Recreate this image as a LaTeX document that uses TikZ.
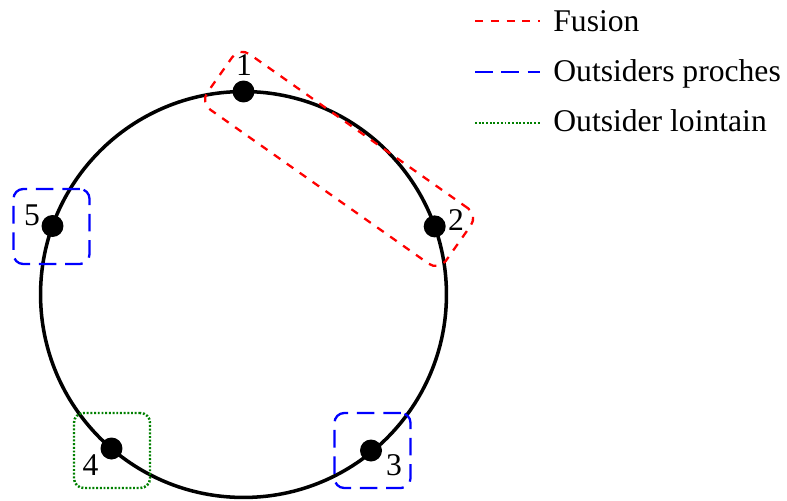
\documentclass[tikz,border=0pt]{standalone}
\usepackage{fontspec}
\setmainfont{Liberation Serif}
\usetikzlibrary{calc}
\begin{document}
\begin{tikzpicture}[x=0.02cm,y=-0.02cm,
  every node/.style={font=\fontsize{18}{20}\selectfont},
  dot/.style={circle,fill=black,inner sep=0pt,minimum size=0.44cm},
  lbl/.style={anchor=base,inner sep=0pt},
  fusionline/.style={red,line width=1.3pt,dash pattern=on 4.5pt off 4.5pt},
  procheline/.style={blue,line width=1.3pt,dash pattern=on 10pt off 5pt},
  lointline/.style={green!50!black,line width=1.4pt,dash pattern=on 1.1pt off 1pt},
  grp/.style={rectangle,rounded corners=5.5pt,minimum width=1.52cm,minimum height=1.5cm,inner sep=0pt},
  legtext/.style={anchor=base west,inner sep=0pt}]
\useasboundingbox (0,0) rectangle (787,500);
\draw[line width=2pt] (243.5,294.5) circle [radius=4.06cm];
\node[dot] (n1) at (243.5,91.5) {};
\node[dot] (n2) at (434.7,226.4) {};
\node[dot] (n3) at (371,450.5) {};
\node[dot] (n4) at (111.5,448.5) {};
\node[dot] (n5) at (52.5,226) {};
\node[lbl] (t1) at (244,75) {1};
\node[lbl] (t2) at (456,230) {2};
\node[lbl] (t3) at (394,475) {3};
\node[lbl] (t4) at (90.5,475) {4};
\node[lbl] (t5) at (32,225) {5};
\node[draw,fusionline,rectangle,rounded corners=7pt,minimum width=5.84cm,minimum height=1.36cm,rotate=-35.2] (fus) at ($(n1)!0.5!(n2)$) {};
\node[draw,procheline,grp] (g5) at (51.5,226.5) {};
\node[draw,procheline,grp] (g3) at (372.5,450.5) {};
\node[draw,lointline,grp] (g4) at (112,450.5) {};
\coordinate (a1) at (475,21);
\coordinate (b1) at (540,21);
\coordinate (a2) at (475,72);
\coordinate (b2) at (540,72);
\coordinate (a3) at (475,123);
\coordinate (b3) at (540,123);
\draw[fusionline] (a1) -- (b1);
\draw[procheline] (a2) -- (b2);
\draw[lointline] (a3) -- (b3);
\node[legtext] (L1) at (553,32) {Fusion};
\node[legtext] (L2) at (553,82) {Outsiders proches};
\node[legtext] (L3) at (553,132) {Outsider lointain};
\end{tikzpicture}
\end{document}
